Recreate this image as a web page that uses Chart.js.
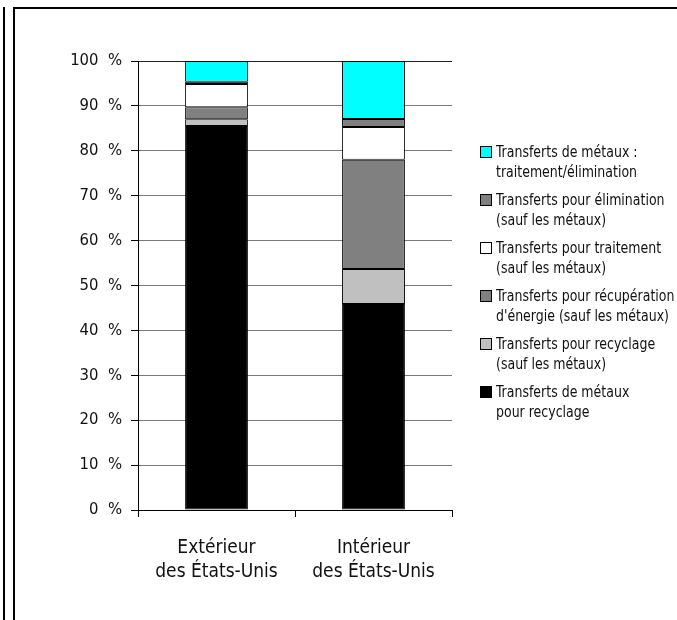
<!DOCTYPE html>
<html>
<head>
<meta charset="utf-8">
<script src="https://cdn.jsdelivr.net/npm/chart.js@4/dist/chart.umd.min.js"></script>
<style>
  body { margin: 0; background: #fff; }
  #wrap { position: relative; width: 677px; height: 620px; }
  .frame { position: absolute; background: #000; }
  #legend { position: absolute; left: 480px; top: 142px; font-family: "Liberation Sans Narrow", "DejaVu Sans Condensed", sans-serif; font-size: 15.5px; color: #111; white-space: nowrap; }
  #legend .item { display: flex; align-items: flex-start; margin-bottom: 8px; line-height: 20px; }
  #legend .box { width: 10px; height: 10px; border: 1px solid #000; margin: 4px 4px 0 0; flex: none; }
  #legend .txt { transform: scaleX(0.9); transform-origin: left top; }
</style>
</head>
<body>
<div id="wrap">
  <div class="frame" style="left:3px;top:7px;width:2px;height:613px"></div>
  <div class="frame" style="left:13px;top:7px;width:2px;height:613px"></div>
  <div class="frame" style="left:13px;top:7px;width:664px;height:2px"></div>
  <canvas id="c" width="677" height="620" style="position:absolute;left:0;top:0"></canvas>
  <div id="legend"></div>
</div>
<script>
// categories
const categories = [['Extérieur', 'des États-Unis'], ['Intérieur', 'des États-Unis']];
// series, bottom of the stack first
const seriesNames = [
  ['Transferts de métaux', 'pour recyclage'],
  ['Transferts pour recyclage', '(sauf les métaux)'],
  ["Transferts pour récupération", "d'énergie (sauf les métaux)"],
  ['Transferts pour traitement', '(sauf les métaux)'],
  ['Transferts pour élimination', '(sauf les métaux)'],
  ['Transferts de métaux :', 'traitement/élimination']
];
const metauxRecyclage = [85.5, 45.9];
const recyclage = [1.5, 7.8];
const recupEnergie = [2.7, 24.3];
const traitement = [5.2, 7.3];
const elimination = [0.5, 1.8];
const metauxTraitElim = [4.6, 12.9];
const colors = ['#000000', '#c0c0c0', '#808080', '#ffffff', '#808080', '#00ffff'];
const yTicks = [0, 10, 20, 30, 40, 50, 60, 70, 80, 90, 100];

const seriesValues = [metauxRecyclage, recyclage, recupEnergie, traitement, elimination, metauxTraitElim];
const font = "'Liberation Sans Narrow', 'DejaVu Sans Condensed', sans-serif";

new Chart(document.getElementById('c'), {
  type: 'bar',
  data: {
    labels: categories,
    datasets: seriesValues.map((v, i) => ({
      label: seriesNames[i].join(' '),
      data: v,
      backgroundColor: colors[i],
      borderColor: '#000',
      borderWidth: 1,
      borderSkipped: false,
      categoryPercentage: 0.8,
      barPercentage: 0.5
    }))
  },
  options: {
    responsive: false,
    animation: false,
    layout: { padding: { left: 0, top: 61, right: 225, bottom: 0 } },
    plugins: { legend: { display: false }, tooltip: { enabled: false } },
    scales: {
      x: {
        stacked: true,
        grid: {
          offset: true,
          color: c => c.index === 2 ? '#555' : 'rgba(0,0,0,0)',
          tickColor: '#000', tickLength: 7
        },
        border: { color: '#000' },
        ticks: { color: '#111', font: { family: font, size: 19, lineHeight: 1.27 }, padding: 19, maxRotation: 0 },
        afterFit: s => { s.height = 110; }
      },
      y: {
        stacked: true, min: 0, max: 100,
        afterBuildTicks: s => { s.ticks = yTicks.map(v => ({ value: v })); },
        grid: { color: c => c.tick && c.tick.value === 100 ? '#222' : '#7a7a7a', tickColor: '#000', tickLength: 7 },
        border: { color: '#000' },
        ticks: { color: '#111', font: { family: font, size: 16.5 }, padding: 9, callback: v => v + '  %' },
        afterFit: s => { s.width = 138; }
      }
    }
  }
});

// legend, top item = top of the stack
const legend = document.getElementById('legend');
for (let i = seriesNames.length - 1; i >= 0; i--) {
  const item = document.createElement('div');
  item.className = 'item';
  item.innerHTML = '<div class="box" style="background:' + colors[i] + '"></div><div class="txt">' + seriesNames[i].join('<br>') + '</div>';
  legend.appendChild(item);
}
</script>
</body>
</html>
